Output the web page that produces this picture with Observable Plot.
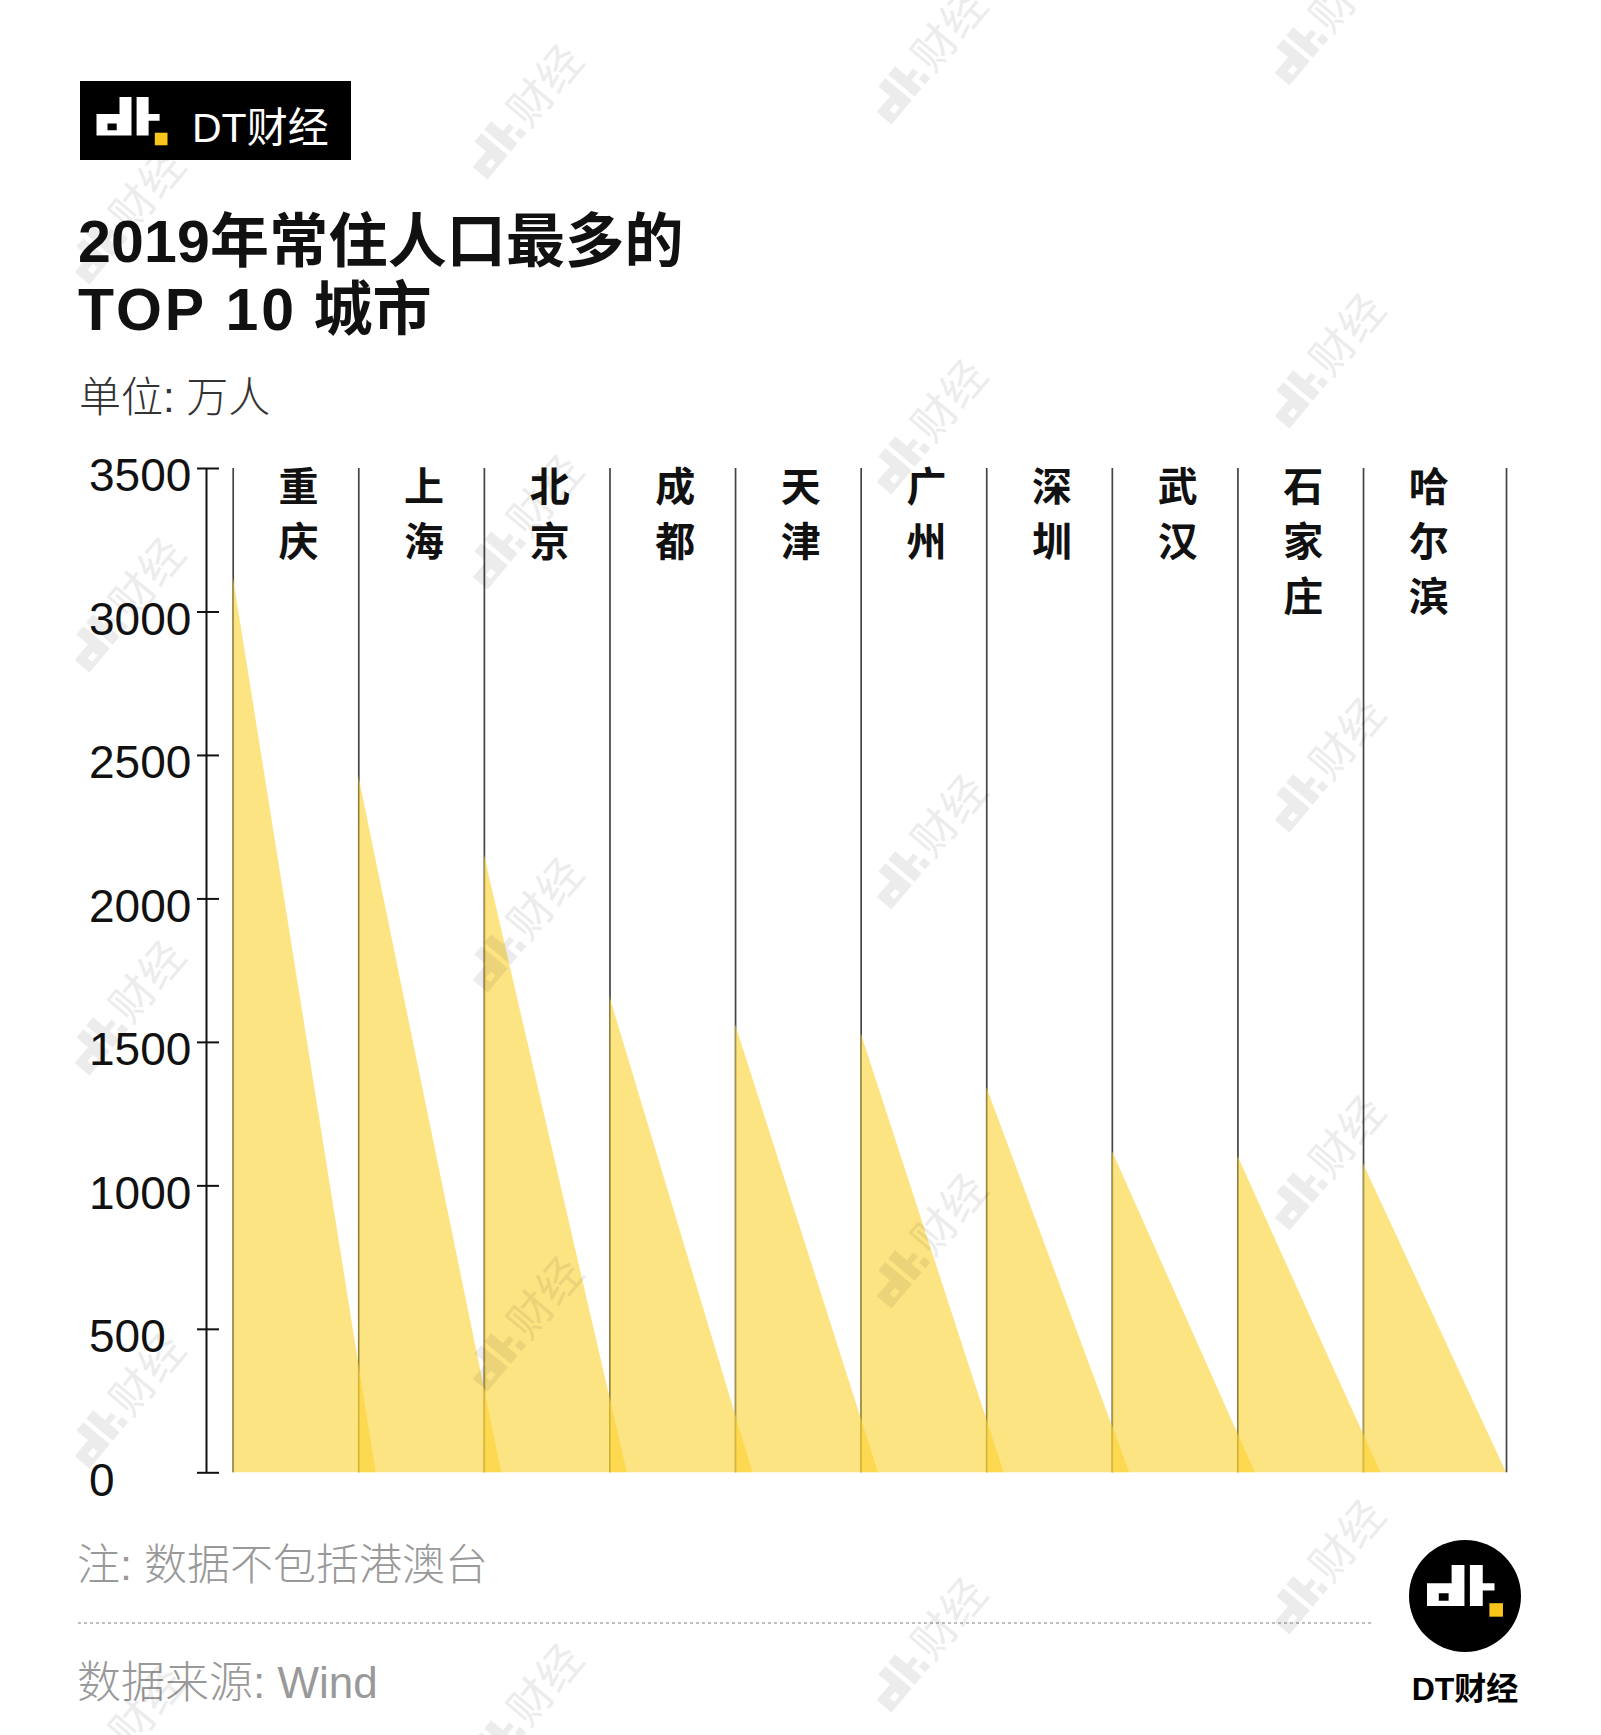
<!DOCTYPE html>
<html>
<head>
<meta charset="utf-8">
<script src="https://cdn.jsdelivr.net/npm/d3@7"></script>
<script src="https://cdn.jsdelivr.net/npm/@observablehq/plot@0.6"></script>
<style>
  html, body { margin: 0; padding: 0; background: #fff; }
  #page { position: relative; width: 1601px; height: 1735px; overflow: hidden; background: #fff; }
  #page > svg, #page > div { position: absolute; left: 0; }
  .cjk { font-family: "Liberation Sans", "Noto Sans CJK SC", sans-serif; }
</style>
</head>
<body>
<div id="page">
  <svg id="decor" width="1601" height="1735" style="top:0" class="cjk">
    <defs>
      <g id="dtglyph">
        <path fill-rule="evenodd" fill="#fff" d="M23,0 H35 V38.4 H0 V17 H23 Z M11,26.5 H20.2 V33.3 H11 Z"/>
        <path fill="#fff" d="M40.1,0 H52.1 V17 H63.1 V23.8 H52.1 V38.4 H40.1 Z"/>
        <rect x="58.3" y="35.7" width="12.7" height="12.6" fill="#F9C51B"/>
      </g>
    </defs>
    <!-- top logo box -->
    <rect x="80" y="81" width="271" height="79" fill="#000"/>
    <use href="#dtglyph" x="96.5" y="97"/>
    <text x="192" y="142" fill="#fff" font-size="41" font-family="Liberation Sans, Noto Sans CJK SC">DT财经</text>
    <!-- title -->
    <text x="78" y="262" fill="#111" font-size="59" font-weight="700" letter-spacing="0.2">2019年常住人口最多的</text>
    <text x="78" y="330" fill="#111" font-size="59" font-weight="700"><tspan letter-spacing="3">TOP 10</tspan><tspan> 城市</tspan></text>
    <text x="79" y="412" fill="#333" font-size="42" font-weight="300">单位: 万人</text>
    <!-- footer -->
    <text x="77" y="1580" fill="#999" font-size="43" font-weight="300">注: 数据不包括港澳台</text>
    <line x1="78" y1="1623" x2="1372" y2="1623" stroke="#aaa" stroke-width="1.5" stroke-dasharray="3 3"/>
    <text x="77" y="1698" fill="#999" font-size="44" font-weight="300">数据来源: Wind</text>
    <!-- bottom-right logo -->
    <circle cx="1465" cy="1596" r="56" fill="#000"/>
    <use href="#dtglyph" transform="translate(1427,1565) scale(1.07)"/>
    <text x="1465" y="1700" fill="#000" font-size="32" font-weight="700" text-anchor="middle">DT财经</text>
  </svg>
  <div id="chart" style="top:400px"></div>
  <svg id="wm" width="1601" height="1735" style="top:0; pointer-events:none"></svg>
</div>
<script>
// ---- data ----
const cities = ["重庆", "上海", "北京", "成都", "天津", "广州", "深圳", "武汉", "石家庄", "哈尔滨"];
const population = [3124, 2428, 2154, 1658, 1562, 1531, 1344, 1121, 1103, 1076];
const yTicks = [0, 500, 1000, 1500, 2000, 2500, 3000, 3500];

// decorative watermark spots (page coordinates)
const watermarkX = [133, 531, 935, 1333];
const watermarkY = [[210, 598, 1001, 1394, 1726], [105, 515, 918, 1317, 1704], [50, 420, 835, 1234, 1638], [11, 354, 758, 1156, 1560]];

// ---- geometry helpers ----
const triWidth = 1.1385;   // each triangle is slightly wider than its band
const yMax = 3500;

const triRows = [];
cities.forEach((c, i) => {
  triRows.push({city: c, x: i, y: population[i]});
  triRows.push({city: c, x: i + triWidth, y: 0});
});
const dividers = cities.map((c, i) => i).concat([cities.length - 1 + triWidth]);
const labelRows = cities.map((c, i) => ({x: i + 0.52, text: Array.from(c).join("\n")}));

const H = 1100;
const chart = Plot.plot({
  width: 1601,
  height: H,
  marginTop: 68,
  marginBottom: 27.7,
  marginLeft: 219,
  marginRight: 95,
  style: {fontFamily: "Liberation Sans, Noto Sans CJK SC, sans-serif", background: "transparent", overflow: "visible"},
  x: {domain: [0, cities.length - 1 + triWidth], range: [232.7, 1506], axis: null},
  y: {domain: [0, yMax], range: [1072.3, 68]},
  marks: [
    Plot.ruleX(dividers, {x: d => d, y1: 0, y2: yMax, stroke: "#444", strokeWidth: 1.7}),
    Plot.areaY(triRows, {x: "x", y: "y", z: "city", fill: "#FCD22E", fillOpacity: 0.6, curve: "linear"}),
    Plot.ruleX([0], {y1: 0, y2: yMax, dx: -26.7, stroke: "#111", strokeWidth: 2}),
    Plot.axisY(yTicks, {tickSize: 22, tickFormat: () => "", stroke: "#111", strokeWidth: 2, label: null}),
    Plot.text(yTicks, {y: d => d, frameAnchor: "left", dx: -130.5, dy: 8, textAnchor: "start", text: d => String(d), fontSize: 46, fill: "#111"}),
    Plot.text(labelRows, {x: "x", y: yMax, text: "text", lineAnchor: "top", lineHeight: 1.375, fontSize: 40, fontWeight: 700, fill: "#111", dy: -7, fontFamily: "Noto Sans CJK SC"})
  ]
});
document.getElementById("chart").appendChild(chart);

// watermarks: dt glyph + 财经, faint grey, rotated
const wm = d3.select("#wm");
watermarkX.forEach((x, ci) => {
  watermarkY[ci].forEach(y => {
    const g = wm.append("g")
      .attr("transform", `translate(${x},${y}) rotate(-50)`)
      .attr("opacity", 0.07);
    g.append("path")
      .attr("fill-rule", "evenodd")
      .attr("fill", "#000")
      .attr("transform", "translate(-85,-20) scale(0.9)")
      .attr("d", "M23,0 H35 V38.4 H0 V17 H23 Z M11,26.5 H20.2 V33.3 H11 Z M40.1,0 H52.1 V17 H63.1 V23.8 H52.1 V38.4 H40.1 Z M58.3,29 H67 V38.4 H58.3 Z");
    g.append("text")
      .attr("x", -20)
      .attr("y", 14)
      .attr("font-family", "Noto Sans CJK SC")
      .attr("font-size", 44)
      .attr("fill", "#000")
      .text("财经");
  });
});
</script>
</body>
</html>
